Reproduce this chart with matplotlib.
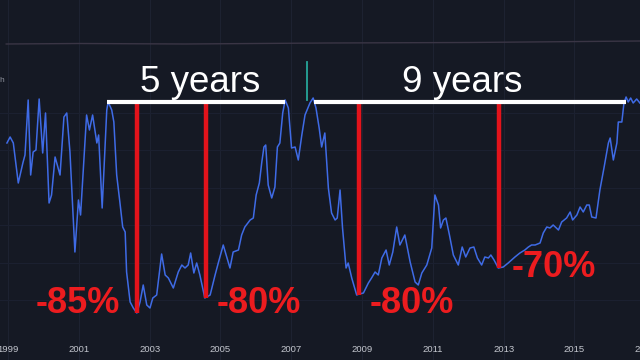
import matplotlib
matplotlib.use("Agg")
import matplotlib.pyplot as plt

# ---- data (decimal year, index value: peak ~ 100) ----
years = [1998.97, 1999.06, 1999.15, 1999.29, 1999.42, 1999.48, 1999.57, 1999.64, 1999.71, 1999.79,
         1999.88, 1999.98, 2000.06, 2000.16, 2000.23, 2000.33, 2000.47, 2000.58, 2000.66, 2000.75,
         2000.89, 2000.99, 2001.05, 2001.22, 2001.30, 2001.39, 2001.51, 2001.56, 2001.66, 2001.79,
         2001.83, 2001.93, 2001.99, 2002.07, 2002.16, 2002.24, 2002.31, 2002.35, 2002.45, 2002.54,
         2002.64, 2002.73, 2002.82, 2002.92, 2003.01, 2003.09, 2003.20, 2003.34, 2003.44, 2003.53,
         2003.67, 2003.81, 2003.91, 2004.00, 2004.09, 2004.16, 2004.25, 2004.33, 2004.42, 2004.56,
         2004.71, 2004.85, 2004.94, 2005.08, 2005.18, 2005.27, 2005.36, 2005.51, 2005.60, 2005.69,
         2005.84, 2005.93, 2006.01, 2006.10, 2006.17, 2006.23, 2006.28, 2006.35, 2006.45, 2006.54,
         2006.61, 2006.68, 2006.76, 2006.83, 2006.92, 2007.01, 2007.11, 2007.20, 2007.30, 2007.39,
         2007.53, 2007.62, 2007.70, 2007.79, 2007.86, 2007.95, 2008.05, 2008.14, 2008.24, 2008.30,
         2008.38, 2008.45, 2008.55, 2008.61, 2008.71, 2008.85, 2008.92, 2009.04, 2009.18, 2009.27,
         2009.37, 2009.46, 2009.56, 2009.68, 2009.77, 2009.87, 2009.98, 2010.07, 2010.21, 2010.36,
         2010.50, 2010.59, 2010.69, 2010.83, 2010.97, 2011.06, 2011.16, 2011.22, 2011.30, 2011.37,
         2011.47, 2011.58, 2011.72, 2011.83, 2011.93, 2012.05, 2012.16, 2012.26, 2012.38, 2012.47,
         2012.57, 2012.64, 2012.73, 2012.85, 2012.99, 2013.13, 2013.32, 2013.46, 2013.60, 2013.70,
         2013.79, 2013.89, 2014.03, 2014.12, 2014.22, 2014.31, 2014.40, 2014.55, 2014.64, 2014.78,
         2014.88, 2014.95, 2015.07, 2015.16, 2015.25, 2015.35, 2015.42, 2015.49, 2015.61, 2015.72,
         2015.84, 2015.96, 2016.01, 2016.10, 2016.20, 2016.24, 2016.34, 2016.40, 2016.46, 2016.52,
         2016.59, 2016.66, 2016.76, 2016.85]
values = [82.8, 85.2, 82.8, 66.8, 74.8, 78.0, 100.0, 70.0, 79.2, 80.0,
          100.4, 78.8, 94.8, 58.8, 62.0, 77.2, 70.0, 93.2, 94.8, 79.2,
          39.2, 60.0, 54.0, 94.0, 88.0, 94.0, 82.8, 86.0, 56.8, 96.0,
          99.2, 96.0, 91.2, 70.0, 59.2, 49.2, 47.2, 31.2, 19.2, 16.8,
          14.8, 19.2, 26.0, 18.0, 16.8, 20.8, 22.0, 38.4, 30.0, 28.8,
          24.8, 31.2, 34.0, 32.8, 34.0, 38.8, 30.8, 34.8, 30.0, 20.8,
          22.0, 30.0, 34.8, 42.0, 37.2, 32.8, 39.2, 40.0, 46.0, 49.2,
          52.0, 52.8, 62.0, 66.8, 75.2, 81.2, 82.0, 66.0, 60.8, 65.2,
          81.2, 82.8, 94.8, 100.0, 96.8, 80.8, 81.2, 76.0, 86.0, 94.0,
          98.8, 100.8, 96.8, 88.8, 81.2, 86.8, 64.8, 54.8, 52.0, 52.8,
          64.0, 48.8, 32.8, 34.8, 28.8, 22.0, 22.4, 22.8, 26.8, 28.8,
          31.2, 30.0, 36.8, 40.0, 34.0, 39.2, 49.2, 42.0, 46.0, 35.2,
          27.2, 26.0, 30.8, 34.0, 40.8, 62.0, 58.0, 48.8, 52.0, 52.8,
          46.0, 38.0, 34.0, 41.2, 37.2, 40.8, 41.2, 36.8, 34.0, 37.2,
          36.8, 38.0, 36.0, 32.8, 33.2, 34.8, 37.2, 38.8, 40.0, 41.2,
          42.0, 42.0, 42.8, 46.8, 49.2, 48.8, 50.0, 48.0, 51.2, 52.8,
          55.2, 52.0, 54.0, 57.2, 55.2, 58.0, 58.0, 53.2, 52.8, 64.0,
          73.2, 82.8, 84.8, 76.0, 82.8, 91.2, 91.2, 98.8, 101.2, 99.2,
          100.8, 98.8, 100.4, 98.8]
assert len(years) == len(values)

tick_years = [1999, 2001, 2003, 2005, 2007, 2009, 2011, 2013, 2015, 2017]

# peak-to-peak spans (start, end) and their labels
span_starts = [2001.80, 2007.64]
span_ends = [2006.82, 2016.46]
span_labels = ["5 years", "9 years"]
span_level = 99.2

# drawdowns: year of trough, trough value, label
dd_years = [2002.64, 2004.59, 2008.92, 2012.88]
dd_lows = [14.8, 20.8, 22.0, 32.8]
dd_labels = ["-85%", "-80%", "-80%", "-70%"]

# faint overview series at the top
top_years = [1998.95, 2001.0, 2004.0, 2008.0, 2012.0, 2016.85]
top_values = [122.4, 122.6, 122.4, 122.8, 123.0, 123.6]

BG = "#151924"
fig = plt.figure(figsize=(6.4, 3.6), dpi=100, facecolor=BG)
ax = fig.add_axes([0, 0, 1, 1])
ax.set_facecolor(BG)
ax.set_xlim(1998.774, 2016.853)
ax.set_ylim(-4, 140)
ax.axis("off")

# faint grid
for yr in tick_years:
    ax.axvline(yr, color="#1d2231", lw=0.8, zorder=0)
for gy in [20, 35, 50, 65, 80, 95]:
    ax.axhline(gy, color="#1b2030", lw=0.8, zorder=0)

ax.plot(top_years, top_values, color="#3a3545", lw=1.0, zorder=1)

ax.plot(years, values, color="#3f6be6", lw=1.1, zorder=2)

FONT = "Liberation Sans"
span_text_x = [2004.42, 2011.82]
for s, e, lab, tx in zip(span_starts, span_ends, span_labels, span_text_x):
    ax.plot([s, e], [span_level, span_level], color="white", lw=3.0,
            solid_capstyle="butt", zorder=4)
    ax.text(tx, 103.2, lab, color="white", fontsize=26.5, family=FONT,
            ha="center", va="baseline", zorder=5)

for x, lo in zip(dd_years, dd_lows):
    ax.plot([x, x], [span_level, lo], color="#e3131b", lw=3.2,
            solid_capstyle="butt", zorder=3)

label_pos = [(2000.96, 14.8), (2006.08, 14.8), (2010.40, 14.8), (2014.41, 29.2)]
for (lx, ly), lab in zip(label_pos, dd_labels):
    ax.text(lx, ly, lab, color="#ec1c1f", fontsize=26, fontweight="bold",
            family=FONT, ha="center", va="baseline", zorder=6)

# green marker line
ax.plot([2007.45, 2007.45], [100.0, 115.2], color="#26a69a", lw=1.3, zorder=4)

for yr in tick_years:
    ax.text(yr, 0.4, str(yr), color="#c3c6ce", fontsize=6.8, family=FONT,
            ha="center", va="center", clip_on=False)
ax.text(1998.83, 108, "h", color="#8a8e99", fontsize=6, family=FONT,
        ha="center", va="center")

fig.savefig("out.png", dpi=100, facecolor=BG)
